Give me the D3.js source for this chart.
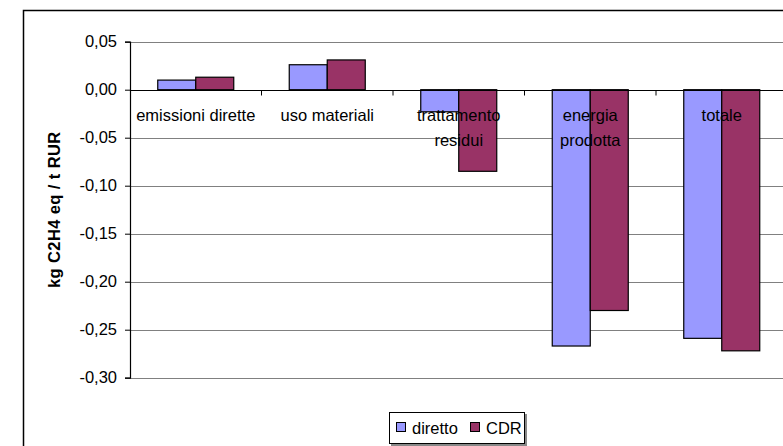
<!DOCTYPE html>
<html>
<head>
<meta charset="utf-8">
<script src="https://cdn.jsdelivr.net/npm/d3@7/dist/d3.min.js"></script>
<style>
  html, body { margin: 0; padding: 0; background: #fff; }
  svg { display: block; }
  text { font-family: "Liberation Sans", Arial, sans-serif; fill: #000; }
</style>
</head>
<body>
<svg id="chart" width="783" height="446"></svg>
<script>
// Chart data
const categories = ["emissioni dirette", "uso materiali", "trattamento residui", "energia prodotta", "totale"];
const categoryLines = [["emissioni dirette"], ["uso materiali"], ["trattamento", "residui"], ["energia", "prodotta"], ["totale"]];
const seriesNames = ["diretto", "CDR"];
const diretto = [0.010, 0.026, -0.023, -0.267, -0.259];
const cdr = [0.013, 0.031, -0.085, -0.230, -0.272];
const yTicks = [0.05, 0.00, -0.05, -0.10, -0.15, -0.20, -0.25, -0.30];
const seriesColors = ["#9999FF", "#993366"];

const svg = d3.select("#chart");
const W = 783, H = 446;
const FS = 16.5;

// Outer chart frame (runs past the right and bottom edges)
svg.append("rect")
  .attr("x", 23.5).attr("y", 10.5)
  .attr("width", 800).attr("height", 460)
  .attr("fill", "#fff").attr("stroke", "#000").attr("stroke-width", 1.5);

const plot = { left: 130, right: 787.5, top: 41.7, bottom: 377.7 };

const x0 = d3.scaleBand().domain(categories).range([plot.left, plot.right]).padding(0);
const x1 = d3.scaleBand().domain(seriesNames).range([27.75, x0.bandwidth() - 27.75]).padding(0);
const y = d3.scaleLinear().domain([-0.30, 0.05]).range([plot.bottom, plot.top]);

const it = d3.formatLocale({ decimal: ",", thousands: ".", grouping: [3], currency: ["€", ""], minus: "-" });
const fmt = it.format(".2f");

// Horizontal gridlines
svg.append("g")
  .selectAll("line")
  .data(yTicks.filter(d => d !== 0))
  .join("line")
  .attr("x1", plot.left).attr("x2", W)
  .attr("y1", d => Math.round(y(d)) + 0.5).attr("y2", d => Math.round(y(d)) + 0.5)
  .attr("stroke", "#808080").attr("stroke-width", 1);

// Bars
const data = categories.map((c, i) => ({ c, values: [diretto[i], cdr[i]] }));
const groups = svg.append("g").selectAll("g")
  .data(data).join("g")
  .attr("transform", d => `translate(${x0(d.c)},0)`);

groups.selectAll("rect")
  .data(d => d.values.map((v, j) => ({ s: seriesNames[j], v, j })))
  .join("rect")
  .attr("x", d => x1(d.s))
  .attr("width", x1.bandwidth())
  .attr("y", d => y(Math.max(0, d.v)))
  .attr("height", d => Math.abs(y(d.v) - y(0)))
  .attr("fill", d => seriesColors[d.j])
  .attr("stroke", "#000").attr("stroke-width", 1.2);

// Y axis
const yAxis = d3.axisLeft(y).tickValues(yTicks).tickFormat(fmt).tickSize(5).tickPadding(8);
const ya = svg.append("g").attr("transform", `translate(${plot.left},0)`).call(yAxis);
ya.select(".domain").attr("stroke", "#000").attr("stroke-width", 1.2);
ya.selectAll(".tick line").attr("stroke", "#000");
ya.selectAll(".tick text")
  .attr("font-family", "Liberation Sans, Arial, sans-serif")
  .attr("font-size", FS).attr("fill", "#000");

// Zero line with category ticks
const xa = svg.append("g").attr("transform", `translate(0,${Math.round(y(0)) + 0.5})`);
xa.append("line").attr("x1", plot.left).attr("x2", W).attr("stroke", "#000").attr("stroke-width", 1.2);
xa.selectAll(".ctick")
  .data(categories.slice(1))
  .join("line")
  .attr("class", "ctick")
  .attr("x1", d => x0(d)).attr("x2", d => x0(d))
  .attr("y1", 0).attr("y2", 5)
  .attr("stroke", "#000");

// Category labels below the zero line
const labels = svg.append("g");
categories.forEach((c, i) => {
  const cx = x0(c) + x0.bandwidth() / 2;
  const t = labels.append("text")
    .attr("x", cx)
    .attr("y", 121)
    .attr("text-anchor", "middle")
    .attr("font-size", FS);
  categoryLines[i].forEach((line, k) => {
    t.append("tspan").attr("x", cx).attr("dy", k === 0 ? 0 : 25).text(line);
  });
});

// Y axis title
svg.append("text")
  .attr("transform", `translate(60,${(plot.top + plot.bottom) / 2}) rotate(-90)`)
  .attr("text-anchor", "middle")
  .attr("font-size", FS).attr("font-weight", "bold").attr("letter-spacing", 0.4)
  .text("kg C2H4 eq / t RUR");

// Legend
const lg = svg.append("g").attr("transform", "translate(389,412)");
lg.append("rect").attr("x", 2).attr("y", 2).attr("width", 136).attr("height", 32).attr("fill", "#888");
lg.append("rect").attr("x", 0.5).attr("y", 0.5).attr("width", 135).attr("height", 31)
  .attr("fill", "#fff").attr("stroke", "#000").attr("stroke-width", 1);
const legendX = [7, 81];
seriesNames.forEach((s, j) => {
  lg.append("rect").attr("x", legendX[j] + 0.5).attr("y", 10.5).attr("width", 9).attr("height", 9)
    .attr("fill", seriesColors[j]).attr("stroke", "#000").attr("stroke-width", 1);
  lg.append("text").attr("x", legendX[j] + 16).attr("y", 21.5)
    .attr("font-size", FS).text(s);
});
</script>
</body>
</html>
